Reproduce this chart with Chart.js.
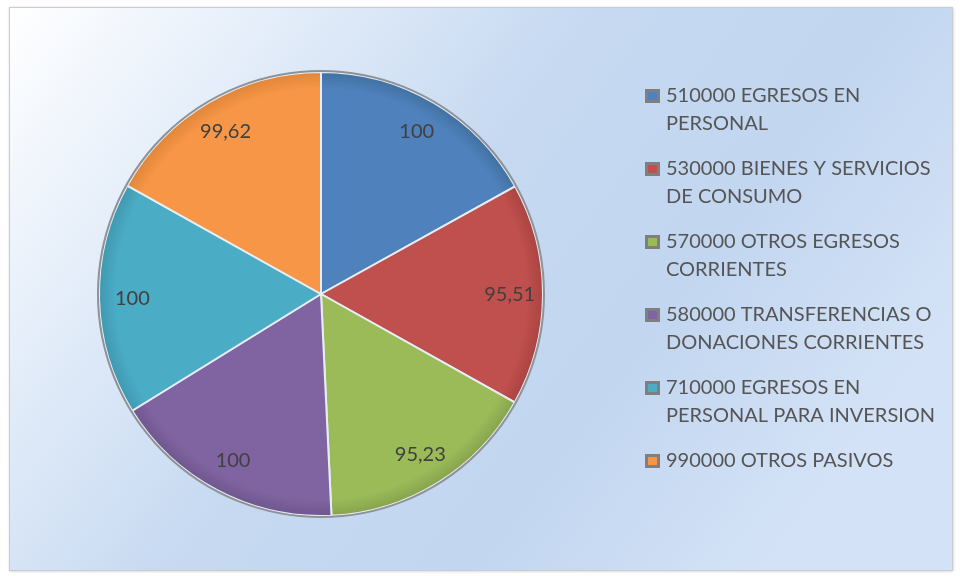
<!DOCTYPE html>
<html>
<head>
<meta charset="utf-8">
<script src="https://cdn.jsdelivr.net/npm/chart.js@4.4.0/dist/chart.umd.min.js"></script>
<style>
  html, body { margin: 0; padding: 0; background: #ffffff; }
  #wrap { width: 960px; height: 576px; }
</style>
</head>
<body>
<div id="wrap"><canvas id="pie" width="960" height="576"></canvas></div>
<script>
// data
const categories = [
  '510000 EGRESOS EN PERSONAL',
  '530000 BIENES Y SERVICIOS DE CONSUMO',
  '570000 OTROS EGRESOS CORRIENTES',
  '580000 TRANSFERENCIAS O DONACIONES CORRIENTES',
  '710000 EGRESOS EN PERSONAL PARA INVERSION',
  '990000 OTROS PASIVOS'
];
const values = [100, 95.51, 95.23, 100, 100, 99.62];
const sliceColors = ['#4f81bd', '#c0504d', '#9bbb59', '#8064a2', '#4bacc6', '#f79646'];
const rimColors = ['#41709f', '#a84341', '#86a24c', '#6e568d', '#3f97ae', '#df8539'];

const FONT = 'Lato, "Open Sans", sans-serif';

// Spanish decimal comma
function formatValue(v) {
  return String(v).replace('.', ',');
}

// frame + gradient background behind everything
const framePlugin = {
  id: 'frame',
  beforeDraw(chart) {
    const ctx = chart.ctx;
    ctx.save();
    ctx.fillStyle = '#ffffff';
    ctx.fillRect(0, 0, chart.width, chart.height);
    const g = ctx.createLinearGradient(10, 8, 760, 570);
    g.addColorStop(0, '#ffffff');
    g.addColorStop(0.25, '#e2ecf9');
    g.addColorStop(0.5, '#c6d9f1');
    g.addColorStop(0.75, '#c2d6f0');
    g.addColorStop(1, '#d3e2f6');
    ctx.shadowColor = 'rgba(0,0,0,0.25)';
    ctx.shadowBlur = 3;
    ctx.shadowOffsetX = 1;
    ctx.shadowOffsetY = 1;
    ctx.fillStyle = g;
    ctx.fillRect(9, 7, 943, 563);
    ctx.shadowColor = 'transparent';
    ctx.strokeStyle = '#c8cdd4';
    ctx.lineWidth = 1;
    ctx.strokeRect(9.5, 7.5, 943, 563);
    ctx.restore();
  }
};

// outer rim and value labels
const labelPlugin = {
  id: 'sliceLabels',
  afterDatasetsDraw(chart) {
    const ctx = chart.ctx;
    const arcs = chart.getDatasetMeta(0).data;
    if (!arcs.length) return;
    const a0 = arcs[0];
    ctx.save();
    ctx.beginPath();
    ctx.arc(a0.x, a0.y, a0.outerRadius + 1, 0, Math.PI * 2);
    ctx.strokeStyle = '#8e9296';
    ctx.lineWidth = 2;
    ctx.stroke();
    ctx.font = '20px ' + FONT;
    ctx.fillStyle = '#404040';
    ctx.textAlign = 'center';
    ctx.textBaseline = 'middle';
    arcs.forEach((arc, i) => {
      const mid = (arc.startAngle + arc.endAngle) / 2;
      const r = arc.outerRadius * 0.85;
      ctx.fillText(formatValue(values[i]), arc.x + Math.cos(mid) * r, arc.y + Math.sin(mid) * r);
    });
    ctx.restore();
  }
};

// legend on the right with wrapped text
const legendPlugin = {
  id: 'sideLegend',
  afterDraw(chart) {
    const ctx = chart.ctx;
    const markX = 645, textX = 666, maxW = 282, lineH = 28, gap = 17;
    let y = 96;
    ctx.save();
    ctx.font = '20px ' + FONT;
    ctx.textBaseline = 'middle';
    categories.forEach((label, i) => {
      const words = label.split(' ');
      const lines = [];
      let cur = '';
      words.forEach(w => {
        const test = cur ? cur + ' ' + w : w;
        if (ctx.measureText(test).width > maxW && cur) {
          lines.push(cur);
          cur = w;
        } else {
          cur = test;
        }
      });
      lines.push(cur);
      // marker
      ctx.fillStyle = '#7f7f7f';
      ctx.fillRect(markX, y - 7, 15, 14);
      ctx.fillStyle = sliceColors[i];
      ctx.fillRect(markX + 3, y - 4, 9, 8);
      ctx.fillStyle = '#555555';
      lines.forEach((ln, k) => ctx.fillText(ln, textX, y + k * lineH));
      y += lines.length * lineH + gap;
    });
    ctx.restore();
  }
};

function sliceFill(context) {
  const chart = context.chart;
  const area = chart.chartArea;
  if (!area) return sliceColors[context.dataIndex];
  const cx = (area.left + area.right) / 2;
  const cy = (area.top + area.bottom) / 2;
  const r = Math.min(area.width, area.height) / 2;
  const g = chart.ctx.createRadialGradient(cx, cy, 0, cx, cy, r);
  g.addColorStop(0, sliceColors[context.dataIndex]);
  g.addColorStop(0.92, sliceColors[context.dataIndex]);
  g.addColorStop(1, rimColors[context.dataIndex]);
  return g;
}

new Chart(document.getElementById('pie'), {
  type: 'pie',
  data: {
    labels: categories,
    datasets: [{
      data: values,
      backgroundColor: sliceFill,
      borderColor: '#e6edf5',
      borderWidth: 2
    }]
  },
  options: {
    responsive: false,
    animation: false,
    layout: { padding: { left: 98, right: 416, top: 71, bottom: 59 } },
    plugins: {
      legend: { display: false },
      tooltip: { enabled: false }
    }
  },
  plugins: [framePlugin, labelPlugin, legendPlugin]
});
</script>
</body>
</html>
